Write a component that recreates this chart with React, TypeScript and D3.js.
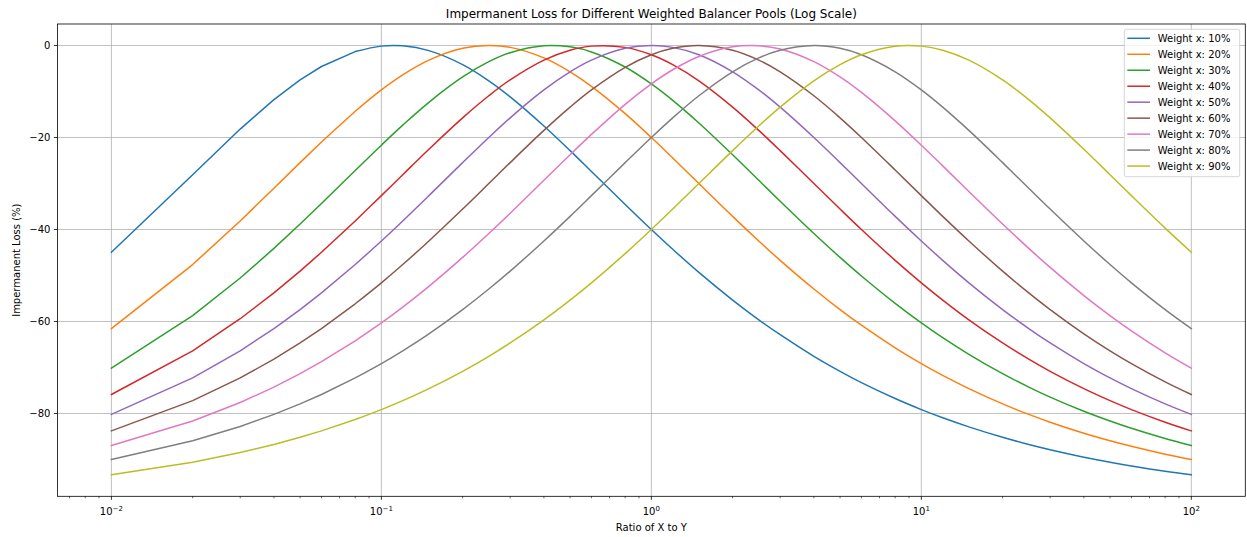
import React from "react";
import * as d3 from "d3";

const ratios = [0.01, 0.02, 0.03, 0.04, 0.05, 0.06, 0.08, 0.1, 0.12, 0.15, 0.2, 0.25, 0.3, 0.4, 0.5, 0.6, 0.8, 1, 1.2, 1.5, 2, 2.5, 3, 4, 5, 6, 8, 10, 12, 15, 20, 25, 30, 40, 50, 60, 80, 100];

const w10 = [-44.95, -28.09, -18.17, -11.76, -7.47, -4.57, -1.33, -0.14, -0.07, -1.12, -4.17, -7.69, -11.18, -17.51, -22.86, -27.38, -34.55, -40.0, -44.3, -49.32, -55.34, -59.63, -62.88, -67.57, -70.83, -73.28, -76.75, -79.15, -80.93, -82.91, -85.18, -86.73, -87.87, -89.49, -90.59, -91.41, -92.56, -93.34];
const w20 = [-61.54, -47.62, -38.14, -31.03, -25.46, -20.98, -14.29, -9.65, -6.38, -3.18, -0.62, 0, -0.41, -2.7, -5.72, -8.87, -14.82, -20.0, -24.45, -30.01, -37.15, -42.5, -46.71, -52.94, -57.41, -60.81, -65.72, -69.15, -71.72, -74.6, -77.92, -80.2, -81.89, -84.29, -85.93, -87.14, -88.85, -90.02];
const w30 = [-70.15, -58.72, -50.55, -44.11, -38.82, -34.36, -27.18, -21.67, -17.32, -12.35, -6.85, -3.52, -1.57, -0.06, -0.3, -1.4, -4.68, -8.35, -11.93, -16.85, -23.76, -29.31, -33.86, -40.87, -46.07, -50.11, -56.06, -60.3, -63.51, -67.13, -71.34, -74.26, -76.43, -79.52, -81.64, -83.22, -85.44, -86.96];
const w40 = [-75.87, -66.37, -59.4, -53.78, -49.05, -44.95, -38.14, -32.64, -28.09, -22.56, -15.73, -10.93, -7.47, -3.18, -1.03, -0.14, -0.41, -2.02, -4.17, -7.69, -13.4, -18.46, -22.86, -30.01, -35.56, -40.0, -46.71, -51.59, -55.34, -59.63, -64.66, -68.19, -70.83, -74.6, -77.21, -79.15, -81.89, -83.78];
const w50 = [-80.2, -72.27, -66.37, -61.54, -57.41, -53.78, -47.62, -42.5, -38.14, -32.64, -25.46, -20.0, -15.73, -9.65, -5.72, -3.18, -0.62, 0, -0.41, -2.02, -5.72, -9.65, -13.4, -20.0, -25.46, -30.01, -37.15, -42.5, -46.71, -51.59, -57.41, -61.54, -64.66, -69.15, -72.27, -74.6, -77.92, -80.2];
const w60 = [-83.78, -77.21, -72.27, -68.19, -64.66, -61.54, -56.15, -51.59, -47.62, -42.5, -35.56, -30.01, -25.46, -18.46, -13.4, -9.65, -4.74, -2.02, -0.62, 0, -1.03, -3.18, -5.72, -10.93, -15.73, -20.0, -27.07, -32.64, -37.15, -42.5, -49.05, -53.78, -57.41, -62.67, -66.37, -69.15, -73.12, -75.87];
const w70 = [-86.96, -81.64, -77.61, -74.26, -71.34, -68.73, -64.19, -60.3, -56.86, -52.35, -46.07, -40.87, -36.46, -29.31, -23.76, -19.33, -12.79, -8.35, -5.28, -2.39, -0.3, -0.06, -0.78, -3.52, -6.85, -10.2, -16.38, -21.67, -26.17, -31.74, -38.82, -44.11, -48.25, -54.36, -58.72, -62.04, -66.81, -70.15];
const w80 = [-90.02, -85.93, -82.81, -80.2, -77.92, -75.87, -72.27, -69.15, -66.37, -62.67, -57.41, -52.94, -49.05, -42.5, -37.15, -32.64, -25.46, -20.0, -15.73, -10.93, -5.72, -2.7, -1.03, 0, -0.62, -2.02, -5.72, -9.65, -13.4, -18.46, -25.46, -31.03, -35.56, -42.5, -47.62, -51.59, -57.41, -61.54];
const w90 = [-93.34, -90.59, -88.49, -86.73, -85.18, -83.78, -81.31, -79.15, -77.21, -74.6, -70.83, -67.57, -64.66, -59.63, -55.34, -51.59, -45.24, -40.0, -35.56, -30.01, -22.86, -17.51, -13.4, -7.69, -4.17, -2.02, -0.17, -0.14, -1.03, -3.18, -7.47, -11.76, -15.73, -22.56, -28.09, -32.64, -39.7, -44.95];

const seriesNames = ["Weight x: 10%", "Weight x: 20%", "Weight x: 30%", "Weight x: 40%", "Weight x: 50%", "Weight x: 60%", "Weight x: 70%", "Weight x: 80%", "Weight x: 90%"];
const seriesValues = [w10, w20, w30, w40, w50, w60, w70, w80, w90];
const colors = ["#1f77b4", "#ff7f0e", "#2ca02c", "#d62728", "#9467bd", "#8c564b", "#e377c2", "#7f7f7f", "#bcbd22"];

const yTicks = [0, -20, -40, -60, -80];
const xTickExps = [-2, -1, 0, 1, 2];

const W = 1247;
const H = 537;
const FONT = "'DejaVu Sans', sans-serif";

export default function App() {
  const left = 57.4, right = 1245.3, top = 24, bottom = 496.3;
  const x = d3.scaleLog().domain([Math.pow(10, -2.2), Math.pow(10, 2.2)]).range([left, right]);
  const y = d3.scaleLinear().domain([-98.0, 4.67]).range([bottom, top]);

  const lineLow = d3
    .line<[number, number]>()
    .x((d) => x(d[0]))
    .y((d) => y(d[1]))
    .curve(d3.curveLinear);
  const lineHigh = d3
    .line<[number, number]>()
    .x((d) => x(d[0]))
    .y((d) => y(d[1]))
    .curve(d3.curveCatmullRom.alpha(0.5));
  const splitIdx = 6;

  const minorTicks: number[] = [];
  for (let e = -3; e <= 2; e++) {
    for (let m = 2; m <= 9; m++) {
      const v = m * Math.pow(10, e);
      if (v >= x.domain()[0] && v <= x.domain()[1]) minorTicks.push(v);
    }
  }

  const legX = 1124.3, legY = 29.3, legW = 115.4, legH = 147.4;

  return (
    <svg width={W} height={H} style={{ position: "absolute", left: 0, top: 0, background: "#fff" }} fontFamily={FONT}>
      <rect x={0} y={0} width={W} height={H} fill="#fff" />
      <defs>
        <clipPath id="plotclip">
          <rect x={left} y={top} width={right - left} height={bottom - top} />
        </clipPath>
      </defs>
      {xTickExps.map((e) => (
        <line key={"gx" + e} x1={x(Math.pow(10, e))} x2={x(Math.pow(10, e))} y1={top} y2={bottom} stroke="#b0b0b0" strokeWidth={0.8} />
      ))}
      {yTicks.map((t) => (
        <line key={"gy" + t} x1={left} x2={right} y1={y(t)} y2={y(t)} stroke="#b0b0b0" strokeWidth={0.8} />
      ))}
      <g clipPath="url(#plotclip)">
        {seriesValues.map((vals, i) => {
          const pts = ratios.map((r, j) => [r, vals[j]] as [number, number]);
          const dLow = lineLow(pts.slice(0, splitIdx + 1)) || "";
          const dHigh = lineHigh(pts.slice(splitIdx)) || "";
          return (
            <path
              key={i}
              d={dLow + dHigh.replace(/^M/, "L")}
              fill="none"
              stroke={colors[i]}
              strokeWidth={1.5}
              strokeLinejoin="round"
              strokeLinecap="square"
            />
          );
        })}
      </g>
      <rect x={left} y={top} width={right - left} height={bottom - top} fill="none" stroke="#000" strokeWidth={0.8} />
      {xTickExps.map((e) => {
        const px = x(Math.pow(10, e));
        return (
          <g key={"xt" + e}>
            <line x1={px} x2={px} y1={bottom} y2={bottom + 3.5} stroke="#000" strokeWidth={0.8} />
            <text x={px} y={515} textAnchor="middle" fontSize={10} fill="#000">
              <tspan>10</tspan>
              <tspan dy={-4.5} fontSize={7}>{e < 0 ? "\u2212" + Math.abs(e) : String(e)}</tspan>
            </text>
          </g>
        );
      })}
      {minorTicks.map((v, i) => (
        <line key={"mt" + i} x1={x(v)} x2={x(v)} y1={bottom} y2={bottom + 2} stroke="#000" strokeWidth={0.6} />
      ))}
      {yTicks.map((t) => (
        <g key={"yt" + t}>
          <line x1={left - 3.5} x2={left} y1={y(t)} y2={y(t)} stroke="#000" strokeWidth={0.8} />
          <text x={left - 7} y={y(t)} dy="0.35em" textAnchor="end" fontSize={10} fill="#000">
            {t < 0 ? "\u2212" + Math.abs(t) : String(t)}
          </text>
        </g>
      ))}
      <text x={(left + right) / 2} y={18.3} textAnchor="middle" fontSize={12} fill="#000">
        Impermanent Loss for Different Weighted Balancer Pools (Log Scale)
      </text>
      <text x={(left + right) / 2} y={531} textAnchor="middle" fontSize={10} fill="#000">
        Ratio of X to Y
      </text>
      <text transform={`translate(19.5, ${(top + bottom) / 2}) rotate(-90)`} textAnchor="middle" fontSize={10} fill="#000">
        Impermanent Loss (%)
      </text>
      <rect x={legX} y={legY} width={legW} height={legH} rx={2} ry={2} fill="#fff" fillOpacity={0.8} stroke="#cccccc" strokeWidth={0.8} />
      {seriesNames.map((name, i) => {
        const cy = 38.3 + i * 15.97;
        return (
          <g key={"lg" + i}>
            <line x1={1127.3} x2={1150} y1={cy} y2={cy} stroke={colors[i]} strokeWidth={1.5} />
            <text x={1157.7} y={cy} dy="0.35em" fontSize={10} fill="#000">
              {name}
            </text>
          </g>
        );
      })}
    </svg>
  );
}
